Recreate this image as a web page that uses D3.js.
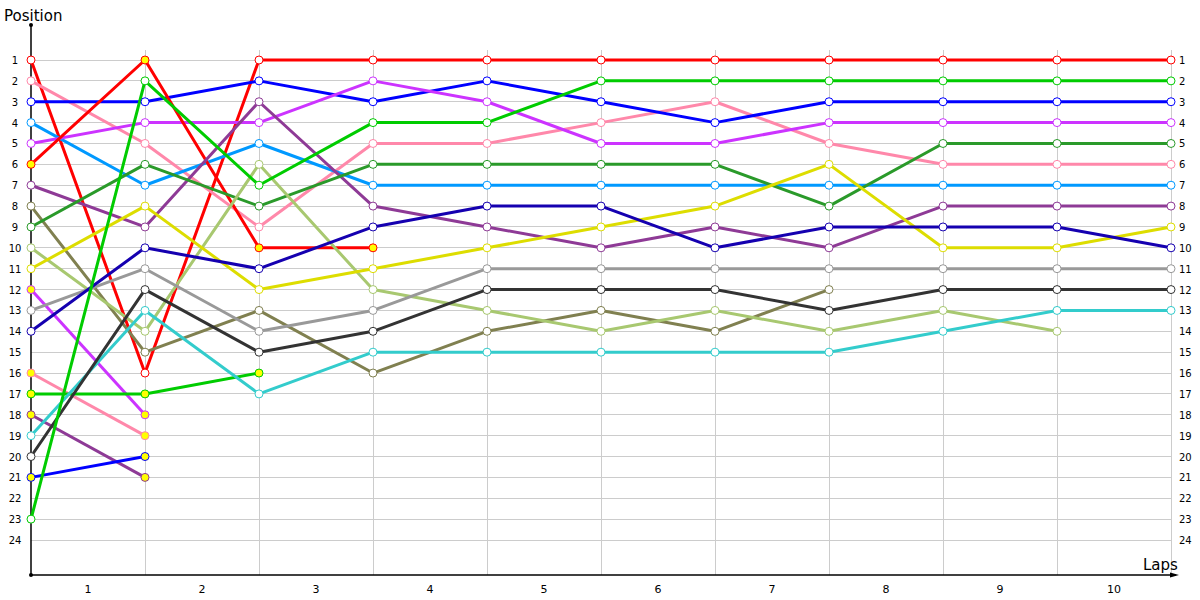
<!DOCTYPE html>
<html><head><meta charset="utf-8">
<script src="https://cdn.jsdelivr.net/npm/d3@7"></script>
<style>body{margin:0;background:#fff}svg{display:block}text{font-family:"DejaVu Sans",Verdana,sans-serif;fill:#000}</style>
</head><body><svg id="c" width="1200" height="600"></svg>
<script>
const laps = [0,1,2,3,4,5,6,7,8,9,10];
const lapLabels = ["1","2","3","4","5","6","7","8","9","10"];
const positions = d3.range(1,25);
const seriesColors = ["#ff0000","#ff88aa","#0000ff","#0099ff","#cc33ff","#ff0000","#8e3a96","#808050","#2a9a2a","#a8c870","#dddd00","#cc33ff","#999999","#1500b0","#ff88aa","#00cc00","#8e3a96","#33cccc","#333333","#0000ff","#00cc00"];
const seriesRetired = [false,false,false,false,false,true,false,false,false,false,false,true,false,false,true,true,true,false,false,true,false];
const s01 = [1,16,1,1,1,1,1,1,1,1,1];
const s02 = [2,5,9,5,5,4,3,5,6,6,6];
const s03 = [3,3,2,3,2,3,4,3,3,3,3];
const s04 = [4,7,5,7,7,7,7,7,7,7,7];
const s05 = [5,4,4,2,3,5,5,4,4,4,4];
const s06 = [6,1,10,10];
const s07 = [7,9,3,8,9,10,9,10,8,8,8];
const s08 = [8,15,13,16,14,13,14,12];
const s09 = [9,6,8,6,6,6,6,8,5,5,5];
const s10 = [10,14,6,12,13,14,13,14,13,14];
const s11 = [11,8,12,11,10,9,8,6,10,10,9];
const s12 = [12,18];
const s13 = [13,11,14,13,11,11,11,11,11,11,11];
const s14 = [14,10,11,9,8,8,10,9,9,9,10];
const s15 = [16,19];
const s16 = [17,17,16];
const s17 = [18,21];
const s18 = [19,13,17,15,15,15,15,15,14,13,13];
const s19 = [20,12,15,14,12,12,12,13,12,12,12];
const s20 = [21,20];
const s21 = [23,2,7,4,4,2,2,2,2,2,2];
const allSeries = [s01,s02,s03,s04,s05,s06,s07,s08,s09,s10,s11,s12,s13,s14,s15,s16,s17,s18,s19,s20,s21];

const svg = d3.select("#c");
const x = d3.scaleLinear().domain([0,10]).range([31,1171]);
const y = d3.scaleLinear().domain([1,24]).range([60,540]);
const axisBottom = 575, axisTop = 25;

// grid
svg.append("g").selectAll("line").data(positions).join("line")
  .attr("x1", x(0)).attr("x2", x(10)).attr("y1", d=>y(d)).attr("y2", d=>y(d))
  .attr("stroke","#cccccc").attr("stroke-width",1).attr("shape-rendering","crispEdges");
svg.append("g").selectAll("line").data(laps.slice(1)).join("line")
  .attr("x1", d=>x(d)).attr("x2", d=>x(d)).attr("y1", y(0.5)).attr("y2", axisBottom)
  .attr("stroke","#cccccc").attr("stroke-width",1).attr("shape-rendering","crispEdges");

// axes
svg.append("line").attr("x1",x(0)).attr("x2",x(0)).attr("y1",axisTop).attr("y2",axisBottom)
  .attr("stroke","#000").attr("stroke-width",1.5);
svg.append("line").attr("x1",x(0)).attr("x2",1176).attr("y1",axisBottom).attr("y2",axisBottom)
  .attr("stroke","#000").attr("stroke-width",1.5);
svg.append("circle").attr("cx",x(0)).attr("cy",axisTop).attr("r",2).attr("fill","#000");
svg.append("circle").attr("cx",x(0)).attr("cy",axisBottom).attr("r",2).attr("fill","#000");
svg.append("path").attr("d",`M1170,${axisBottom-2.5} L1179,${axisBottom} L1170,${axisBottom+2.5} Z`).attr("fill","#000");

// labels
svg.append("text").attr("x",4).attr("y",21).style("font-size","15px").text("Position");
svg.append("text").attr("x",1143).attr("y",570).style("font-size","15px").text("Laps");

svg.append("g").selectAll("text").data(positions).join("text")
  .attr("x",15).attr("y",d=>y(d)+4).attr("text-anchor","middle").style("font-size","10px").text(d=>d);
svg.append("g").selectAll("text").data(positions).join("text")
  .attr("x",1179).attr("y",d=>y(d)+4).attr("text-anchor","start").style("font-size","10px").text(d=>d);
svg.append("g").selectAll("text").data(lapLabels).join("text")
  .attr("x",(d,i)=>x(i+0.5)).attr("y",593).attr("text-anchor","middle").style("font-size","11px").text(d=>d);

// series
const line = d3.line().x((d,i)=>x(laps[i])).y(d=>y(d));
allSeries.forEach((s,k)=>{
  svg.append("path").attr("d", line(s)).attr("fill","none")
    .attr("stroke", seriesColors[k]).attr("stroke-width",3).attr("stroke-linejoin","round");
});
allSeries.forEach((s,k)=>{
  svg.append("g").selectAll("circle").data(s).join("circle")
    .attr("cx",(d,i)=>x(laps[i])).attr("cy",d=>y(d)).attr("r",4)
    .attr("fill", seriesRetired[k] ? "#ffff00" : "#ffffff")
    .attr("stroke", seriesColors[k]).attr("stroke-width",1);
});
</script></body></html>
